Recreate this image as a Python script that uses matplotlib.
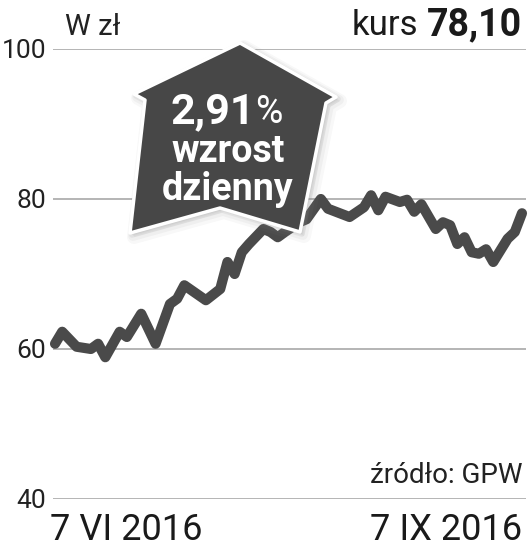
import matplotlib
matplotlib.use("Agg")
import matplotlib.pyplot as plt
from matplotlib.patches import Polygon

# Data
days = [0, 1, 3, 5, 6, 7, 9, 10, 12, 14, 16, 17, 18, 21, 23, 24, 25, 26, 27, 29,
        30, 31, 32, 34, 35, 37, 38, 41, 43, 44, 45, 46, 48, 49, 50, 51, 53, 54, 55, 56,
        57, 58, 59, 60, 61, 63, 64, 65]
price = [60.7, 62.3, 60.3, 60.0, 60.7, 58.9, 62.3, 61.6, 64.7, 60.7,
         66.0, 66.7, 68.5, 66.5, 68.0, 71.6, 70.0, 72.9, 74.0, 76.0,
         75.6, 74.9, 75.6, 76.9, 77.3, 80.0, 78.7, 77.6, 78.9, 80.5,
         78.5, 80.3, 79.6, 79.9, 78.3, 79.3, 76.0, 76.9, 76.5, 74.0,
         74.9, 72.9, 72.7, 73.3, 71.6, 74.7, 75.6, 78.1]
y_ticks = [40, 60, 80, 100]
date_labels = ['7 VI 2016', '7 IX 2016']
change = '2,91'
last_price = '78,10'

W, H = 528, 549
plt.rcParams['font.family'] = ['Roboto', 'DejaVu Sans']

fig = plt.figure(figsize=(W / 100, H / 100), dpi=100)
ax = fig.add_axes([53 / W, 50 / H, 473 / W, 450 / H])

ax.plot(days, price, color='#4a4a4a', lw=7.3, solid_joinstyle='round',
        solid_capstyle='round', zorder=2, clip_on=False)

ax.set_xlim(-0.28, 65.56)
ax.set_ylim(40, 100)
ax.set_yticks(y_ticks)
ax.set_yticklabels([str(v) for v in y_ticks])
ax.set_xticks([])
ax.tick_params(axis='y', length=0, pad=5, labelsize=19, labelcolor='#222222')
ax.grid(axis='y', color='#a8a8a8', lw=1.2, zorder=1)
for s in ax.spines.values():
    s.set_visible(False)


def px(x, y):
    return (x / W, 1 - y / H)


# arrow badge
arrow = [(240, 43), (336, 97), (326, 103), (300, 232), (220, 208),
         (130, 233), (145, 100), (134, 94)]
for off, lw, a in [(4, 10, 0.06), (3, 7, 0.08), (2, 4, 0.12)]:
    sh = Polygon([px(x + off, y + off) for x, y in arrow], closed=True,
                 transform=fig.transFigure, facecolor='#888888', edgecolor='#888888',
                 lw=lw, alpha=a, joinstyle='round', zorder=3)
    ax.add_patch(sh)
badge = Polygon([px(x, y) for x, y in arrow], closed=True, transform=fig.transFigure,
                facecolor='#474747', edgecolor='white', lw=2.5, joinstyle='round',
                zorder=4)
ax.add_patch(badge)
for p in ax.patches:
    p.set_clip_on(False)

renderer = fig.canvas.get_renderer()

t1 = fig.text(*px(170, 123), change, color='white', fontsize=31, fontweight='bold',
              ha='left', va='baseline', zorder=5)
bb = t1.get_window_extent(renderer)
fig.text(bb.x1 / W + 1 / W, 1 - 123 / H, '%', color='white', fontsize=27,
         ha='left', va='baseline', zorder=5)
fig.text(*px(228, 162), 'wzrost', color='white', fontsize=27, fontweight='bold',
         ha='center', va='baseline', zorder=5)
fig.text(*px(228, 200), 'dzienny', color='white', fontsize=27, fontweight='bold',
         ha='center', va='baseline', zorder=5)

# header
fig.text(*px(65, 35), 'W zł', fontsize=21, color='#222222',
         ha='left', va='baseline')
t2 = fig.text(*px(522, 35), last_price, fontsize=27, fontweight='bold', color='#1a1a1a',
              ha='right', va='baseline')
bb2 = t2.get_window_extent(renderer)
fig.text((bb2.x0 - 9) / W, 1 - 35 / H, 'kurs', fontsize=25, color='#1a1a1a',
         ha='right', va='baseline')

# footer
fig.text(*px(522, 483), 'źródło: GPW', fontsize=20, color='#222222',
         ha='right', va='baseline')
fig.text(*px(50, 540), date_labels[0], fontsize=26, color='#1a1a1a',
         ha='left', va='baseline')
fig.text(*px(522, 540), date_labels[1], fontsize=26, color='#1a1a1a',
         ha='right', va='baseline')

fig.savefig('out.png', dpi=100)
